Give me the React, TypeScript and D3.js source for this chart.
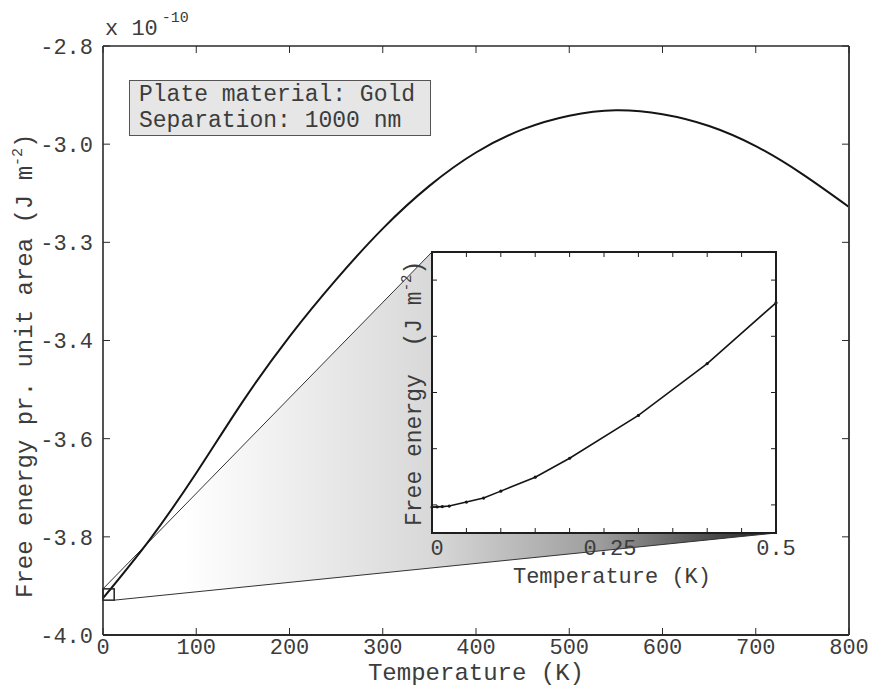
import React from 'react';
import * as d3 from 'd3';

// Main curve (temperature in K, free energy in units of 1e-10 J m^-2)
const temperatureK = [0, 50, 100, 150, 200, 250, 300, 350, 400, 450, 500, 550, 600, 650, 700, 750, 800];
const freeEnergy = [-3.925, -3.806, -3.670, -3.524, -3.392, -3.276, -3.172, -3.085, -3.017, -2.970, -2.942, -2.931, -2.939, -2.963, -3.004, -3.061, -3.128];

const xTickValues = [0, 100, 200, 300, 400, 500, 600, 700, 800];
const xTickLabels = ['0', '100', '200', '300', '400', '500', '600', '700', '800'];
const yTickValues = [-4.0, -3.8, -3.6, -3.4, -3.2, -3.0, -2.8];
const yTickLabels = ['-4.0', '-3.8', '-3.6', '-3.4', '-3.3', '-3.0', '-2.8'];

// Zoom marker region in main data coordinates
const zoomT = [0, 12];
const zoomE = [-3.929, -3.906];

// Inset (temperature in K, free energy in relative units)
const insetT = [0, 0.0075, 0.015, 0.025, 0.05, 0.075, 0.1, 0.15, 0.2, 0.3, 0.4, 0.5];
const insetE = [0.461, 0.465, 0.470, 0.479, 0.550, 0.621, 0.745, 0.993, 1.330, 2.092, 3.014, 4.096];
const insetXTicks = [0, 0.05, 0.1, 0.15, 0.2, 0.25, 0.3, 0.35, 0.4, 0.45, 0.5];
const insetXLabelValues = [0, 0.25, 0.5];
const insetXLabels = ['0', '0.25', '0.5'];
const insetYTicks = [0.5, 1.5, 2.5, 3.5, 4.5];

const legendLines = ['Plate material: Gold', 'Separation: 1000 nm'];

const FONT = '"Liberation Mono", "Courier New", monospace';
const TXT = '#3c3c3c';

export default function App() {
  const W = 875, H = 688;
  const M = { left: 103, right: 849, top: 46, bottom: 635 };
  const x = d3.scaleLinear().domain([0, 800]).range([M.left, M.right]);
  const y = d3.scaleLinear().domain([-4.0, -2.8]).range([M.bottom, M.top]);

  const I = { left: 432, right: 776, top: 252, bottom: 533 };
  const ix = d3.scaleLinear().domain([0, 0.5]).range([I.left, I.right]);
  const iy = d3.scaleLinear().domain([0, 5]).range([I.bottom, I.top]);

  const mainPts: [number, number][] = temperatureK.map((t, i) => [t, freeEnergy[i]]);
  const mainLine = d3.line<[number, number]>().x(d => x(d[0])).y(d => y(d[1])).curve(d3.curveNatural);
  const insetPts: [number, number][] = insetT.map((t, i) => [t, insetE[i]]);
  const insetLine = d3.line<[number, number]>().x(d => ix(d[0])).y(d => iy(d[1]));

  const rx0 = x(zoomT[0]), rx1 = x(zoomT[1]);
  const ry0 = y(zoomE[1]), ry1 = y(zoomE[0]);

  const poly = [
    [rx0, ry0], [I.left, I.top], [I.left, I.bottom], [I.right, I.bottom], [rx1, ry1]
  ].map(p => p.join(',')).join(' ');

  const tick = 7;
  const itick = 5;
  const axisColor = '#2a2a2a';

  return (
    <svg width={W} height={H} style={{ position: 'absolute', left: 0, top: 0, background: '#fff' }} fontFamily={FONT}>
      <defs>
        <linearGradient id="zg" gradientUnits="userSpaceOnUse" x1={rx0} y1={0} x2={I.right} y2={0}>
          <stop offset="0" stopColor="#ffffff" />
          <stop offset="0.12" stopColor="#ffffff" />
          <stop offset="0.49" stopColor="#d8d8d8" />
          <stop offset="0.74" stopColor="#9c9c9c" />
          <stop offset="1" stopColor="#1e1e1e" />
        </linearGradient>
      </defs>
      <rect x={0} y={0} width={W} height={H} fill="#fff" />

      {/* zoom wedge */}
      <polygon points={poly} fill="url(#zg)" stroke="none" />
      <line x1={rx0} y1={ry0} x2={I.left} y2={I.top} stroke="#333" strokeWidth={1} />
      <line x1={rx1} y1={ry1} x2={I.right} y2={I.bottom} stroke="#333" strokeWidth={1} />

      {/* main curve */}
      <path d={mainLine(mainPts) || ''} fill="none" stroke="#151515" strokeWidth={2} />

      {/* zoom rect */}
      <rect x={rx0} y={ry0} width={rx1 - rx0} height={ry1 - ry0} fill="none" stroke="#222" strokeWidth={1.5} />

      {/* legend */}
      <rect x={129.5} y={80.5} width={301} height={55} fill="#e6e6e6" stroke="#555" strokeWidth={1} />
      {legendLines.map((s, i) => (
        <text key={s} x={139} y={101 + i * 26} fontSize={23} fill={TXT}>{s}</text>
      ))}

      {/* main axes box */}
      <g stroke={axisColor} strokeWidth={1.6} fill="none">
        <line x1={M.left} y1={M.bottom} x2={M.right} y2={M.bottom} strokeWidth={2.2} />
        <line x1={M.left} y1={M.top} x2={M.right} y2={M.top} />
        <line x1={M.left} y1={M.top} x2={M.left} y2={M.bottom} />
        <line x1={M.right} y1={M.top} x2={M.right} y2={M.bottom} strokeWidth={2} stroke="#444" />
        {xTickValues.map(v => (
          <g key={'xt' + v}>
            <line x1={x(v)} y1={M.bottom} x2={x(v)} y2={M.bottom - tick} strokeWidth={1} />
            <line x1={x(v)} y1={M.top} x2={x(v)} y2={M.top + tick} strokeWidth={1} />
          </g>
        ))}
        {yTickValues.map(v => (
          <g key={'yt' + v}>
            <line x1={M.left} y1={y(v)} x2={M.left + tick} y2={y(v)} strokeWidth={1} />
            <line x1={M.right} y1={y(v)} x2={M.right - tick} y2={y(v)} strokeWidth={1} />
          </g>
        ))}
      </g>
      {xTickValues.map((v, i) => (
        <text key={'xl' + v} x={x(v)} y={654} fontSize={22} textAnchor="middle" fill={TXT}>{xTickLabels[i]}</text>
      ))}
      {yTickValues.map((v, i) => (
        <text key={'yl' + v} x={93} y={y(v)} dy="0.36em" fontSize={22} textAnchor="end" fill={TXT}>{yTickLabels[i]}</text>
      ))}
      <text x={105} y={35} fontSize={22} fill={TXT}>x 10<tspan dx={4} dy={-13} fontSize={15}>-10</tspan></text>
      <text x={(M.left + M.right) / 2} y={680} fontSize={24} textAnchor="middle" fill={TXT}>Temperature (K)</text>
      <text transform={`translate(32,598) rotate(-90)`} fontSize={24} fill={TXT}>
        Free energy pr. unit area (J m<tspan dy={-10} fontSize={15}>-2</tspan><tspan dy={10}>)</tspan>
      </text>

      {/* inset */}
      <rect x={I.left} y={I.top} width={I.right - I.left} height={I.bottom - I.top} fill="#fff" stroke="none" />
      <path d={insetLine(insetPts) || ''} fill="none" stroke="#151515" strokeWidth={1.6} />
      {insetPts.map((p, i) => (
        <circle key={'ip' + i} cx={ix(p[0])} cy={iy(p[1])} r={1.6} fill="#151515" />
      ))}
      <g stroke="#1e1e1e" fill="none">
        <rect x={I.left} y={I.top} width={I.right - I.left} height={I.bottom - I.top} strokeWidth={2} />
        {insetXTicks.map(v => (
          <g key={'ixt' + v}>
            <line x1={ix(v)} y1={I.bottom} x2={ix(v)} y2={I.bottom - itick} strokeWidth={1} />
            <line x1={ix(v)} y1={I.top} x2={ix(v)} y2={I.top + itick} strokeWidth={1} />
          </g>
        ))}
        {insetYTicks.map(v => (
          <g key={'iyt' + v}>
            <line x1={I.left} y1={iy(v)} x2={I.left + itick} y2={iy(v)} strokeWidth={1} />
            <line x1={I.right} y1={iy(v)} x2={I.right - itick} y2={iy(v)} strokeWidth={1} />
          </g>
        ))}
      </g>
      {insetXLabelValues.map((v, i) => (
        <text key={'ixl' + v} x={ix(v) + (i === 0 ? 5 : i === 1 ? 6 : 0)} y={555} fontSize={22} textAnchor="middle" fill={TXT}>{insetXLabels[i]}</text>
      ))}
      <text x={612} y={583} fontSize={22} textAnchor="middle" fill={TXT}>Temperature (K)</text>
      <text transform={`translate(421,526) rotate(-90)`} fontSize={23} fill={TXT} style={{ whiteSpace: 'pre' }}>
        Free energy  (J m<tspan dy={-10} fontSize={14}>-2</tspan><tspan dy={10}>)</tspan>
      </text>
    </svg>
  );
}
